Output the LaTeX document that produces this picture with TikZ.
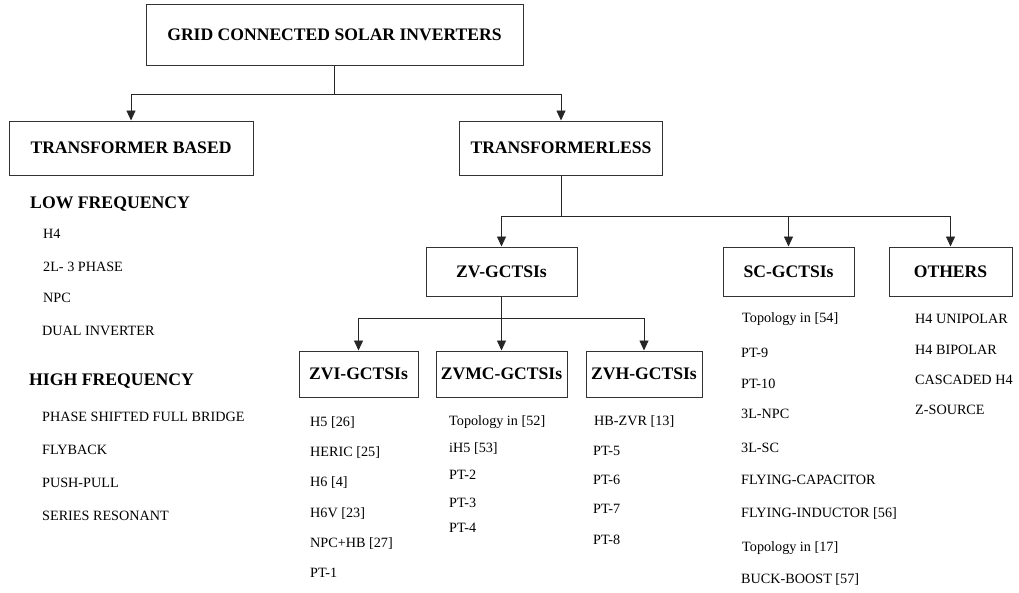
\documentclass[tikz,border=0pt]{standalone}
\usepackage{fontspec}
\setmainfont{Liberation Serif}
\usetikzlibrary{arrows.meta}
\tikzset{
  box/.style={draw=black!80, line width=1pt, inner sep=0pt, align=center,
    font=\fontsize{17.6}{20}\selectfont\bfseries},
  head/.style={anchor=base west, inner sep=0pt, font=\fontsize{17.7}{20}\selectfont\bfseries},
  itm/.style={anchor=base west, inner sep=0pt, font=\fontsize{14.2}{17}\selectfont},
  conn/.style={draw=black!85, line width=0.9pt},
  arr/.style={conn, -{Triangle[width=9pt,length=10pt]}}
}
\begin{document}
\begin{tikzpicture}[x=1pt,y=-1pt]
\useasboundingbox[fill=white] (0,0) rectangle (1019,592);
% boxes
\node[box, minimum width=377pt, minimum height=61pt] (top) at (334.5,34.5) {GRID CONNECTED SOLAR INVERTERS};
\node[box, minimum width=244pt, minimum height=54pt] (tb) at (131,148) {TRANSFORMER BASED};
\node[box, minimum width=203pt, minimum height=54pt] (tl) at (561,148) {TRANSFORMERLESS};
\node[box, minimum width=151pt, minimum height=49pt] (zv) at (501.5,271.5) {ZV-GCTSIs};
\node[box, minimum width=131pt, minimum height=49pt] (sc) at (788.5,271.5) {SC-GCTSIs};
\node[box, minimum width=123pt, minimum height=49pt] (oth) at (950.5,271.5) {OTHERS};
\node[box, minimum width=119pt, minimum height=46pt] (zvi) at (358.5,374) {ZVI-GCTSIs};
\node[box, minimum width=131pt, minimum height=46pt] (zvmc) at (501.5,374) {ZVMC-GCTSIs};
\node[box, minimum width=116pt, minimum height=46pt] (zvh) at (644,374) {ZVH-GCTSIs};
% junctions
\coordinate (j1) at (334.5,94);
\coordinate (j2) at (561,216);
\coordinate (j3) at (501.5,318);
% connectors
\draw[conn] (top.south) -- (j1);
\draw[arr] (j1) -| (tb.north);
\draw[arr] (j1) -| (tl.north);
\draw[conn] (tl.south) -- (j2);
\draw[arr] (j2) -| (zv.north);
\draw[arr] (j2) -| (sc.north);
\draw[arr] (j2) -| (oth.north);
\draw[conn] (zv.south) -- (j3);
\draw[arr] (j3) -| (zvi.north);
\draw[arr] (j3) -- (zvmc.north);
\draw[arr] (j3) -| (zvh.north);
% left lists
\node[head] (lf) at (30,208) {LOW FREQUENCY};
\node[itm] (lf1) at (43,238) {H4};
\node[itm] (lf2) at (43,271) {2L- 3 PHASE};
\node[itm] (lf3) at (43,302) {NPC};
\node[itm] (lf4) at (42,335) {DUAL INVERTER};
\node[head] (hf) at (29,385) {HIGH FREQUENCY};
\node[itm] (hf1) at (42,421) {PHASE SHIFTED FULL BRIDGE};
\node[itm] (hf2) at (42,454) {FLYBACK};
\node[itm] (hf3) at (42,487) {PUSH-PULL};
\node[itm] (hf4) at (42,520) {SERIES RESONANT};
% ZVI list
\node[itm] (a1) at (310,426) {H5 [26]};
\node[itm] (a2) at (310,456) {HERIC [25]};
\node[itm] (a3) at (310,486) {H6 [4]};
\node[itm] (a4) at (310,517) {H6V [23]};
\node[itm] (a5) at (310,547) {NPC+HB [27]};
\node[itm] (a6) at (310,577) {PT-1};
% ZVMC list
\node[itm] (b1) at (449,425) {Topology in [52]};
\node[itm] (b2) at (449,452) {iH5 [53]};
\node[itm] (b3) at (449,479) {PT-2};
\node[itm] (b4) at (449,507) {PT-3};
\node[itm] (b5) at (449,532) {PT-4};
% ZVH list
\node[itm] (c1) at (594,425) {HB-ZVR [13]};
\node[itm] (c2) at (593,455) {PT-5};
\node[itm] (c3) at (593,484) {PT-6};
\node[itm] (c4) at (593,513) {PT-7};
\node[itm] (c5) at (593,544) {PT-8};
% SC list
\node[itm] (d1) at (742,322) {Topology in [54]};
\node[itm] (d2) at (741,357) {PT-9};
\node[itm] (d3) at (741,388) {PT-10};
\node[itm] (d4) at (741,418) {3L-NPC};
\node[itm] (d5) at (741,452) {3L-SC};
\node[itm] (d6) at (741,484) {FLYING-CAPACITOR};
\node[itm] (d7) at (741,517) {FLYING-INDUCTOR [56]};
\node[itm] (d8) at (742,551) {Topology in [17]};
\node[itm] (d9) at (741,583) {BUCK-BOOST [57]};
% OTHERS list
\node[itm] (e1) at (915,323) {H4 UNIPOLAR};
\node[itm] (e2) at (915,354) {H4 BIPOLAR};
\node[itm] (e3) at (915,384) {CASCADED H4};
\node[itm] (e4) at (915,414) {Z-SOURCE};
\end{tikzpicture}
\end{document}
